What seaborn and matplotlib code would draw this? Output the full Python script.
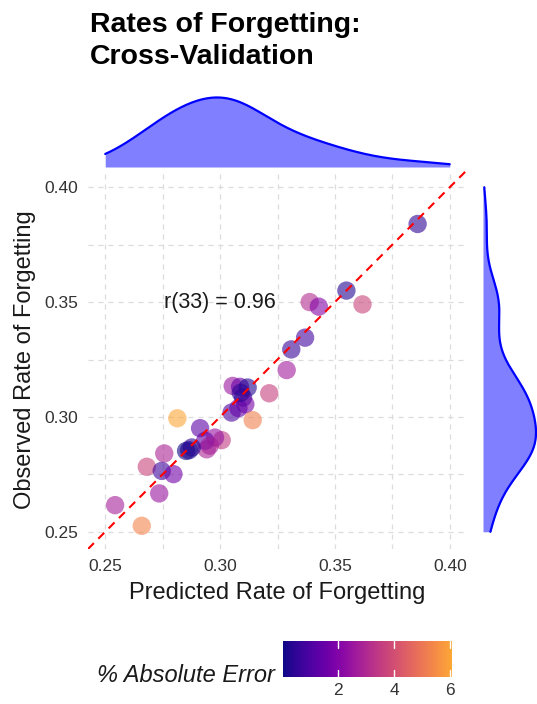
import numpy as np
import matplotlib
matplotlib.use("Agg")
import matplotlib.pyplot as plt
from matplotlib.colors import ListedColormap, Normalize
import seaborn as sns

# Predicted vs observed rate of forgetting, with % absolute error
predicted = [0.386, 0.355, 0.362, 0.339, 0.343, 0.337, 0.331, 0.329, 0.3214, 0.3055,
             0.3087, 0.312, 0.310, 0.311, 0.305, 0.308, 0.3142, 0.2814, 0.2913, 0.3007,
             0.2978, 0.2942, 0.2935, 0.2852, 0.2877, 0.2757, 0.2681, 0.2746, 0.2797, 0.2735,
             0.2543, 0.2659, 0.309, 0.2955, 0.2865]
observed = [0.384, 0.355, 0.349, 0.350, 0.348, 0.3345, 0.3294, 0.3204, 0.3103, 0.3135,
            0.3131, 0.3128, 0.3084, 0.3055, 0.3019, 0.3038, 0.2986, 0.2994, 0.2951, 0.2899,
            0.291, 0.2859, 0.2896, 0.2852, 0.2867, 0.2841, 0.2783, 0.2765, 0.2751, 0.2667,
            0.2616, 0.2526, 0.3105, 0.2875, 0.2855]
abs_error = [0.5, 0.3, 3.7, 3.1, 2.0, 0.8, 0.6, 2.7, 3.6, 2.5,
             1.5, 0.3, 0.6, 1.8, 1.0, 1.4, 5.2, 6.07, 1.3, 3.5,
             2.4, 2.9, 1.4, 0.04, 0.4, 2.9, 3.7, 0.7, 1.7, 2.5,
             2.8, 5.3, 0.5, 2.8, 0.3]
axis_ticks = [0.25, 0.30, 0.35, 0.40]
minor_ticks = [0.275, 0.325, 0.375]
cbar_ticks = [2, 4, 6]

sns.set_style("white")
plt.rcParams['font.family'] = ['Liberation Sans', 'DejaVu Sans']

W, H = 537, 704
fig = plt.figure(figsize=(W / 100, H / 100), dpi=100)

def px_axes(x0, y0, x1, y1):
    # axes from pixel box (top-left origin)
    return fig.add_axes([x0 / W, 1 - y1 / H, (x1 - x0) / W, (y1 - y0) / H])

ax = px_axes(88, 170, 467, 549)
ax_top = px_axes(88, 94, 467, 167)
ax_right = px_axes(483, 170, 537, 549)

lo, hi = 0.25, 0.40
pad = (hi - lo) * 0.05

# plasma, cut short at the orange end
cmap = ListedColormap(plt.cm.plasma(np.linspace(0, 0.8, 256)))
norm = Normalize(min(abs_error), max(abs_error))

# main scatter
sns.scatterplot(x=predicted, y=observed, hue=abs_error, palette=cmap, hue_norm=norm,
                s=175, alpha=0.6, linewidth=0, legend=False, ax=ax, zorder=3)
ax.axline((lo, lo), slope=1, color='red', linestyle=(0, (4, 3)), linewidth=1.5, zorder=4)
ax.text(0.30, 0.35, "r(33) = 0.96", ha='center', va='center', fontsize=15.5, color='#1a1a1a')

ax.set_xlim(lo - pad, hi + pad)
ax.set_ylim(lo - pad, hi + pad)
ax.set_xticks(axis_ticks)
ax.set_yticks(axis_ticks)
ax.set_xticks(minor_ticks, minor=True)
ax.set_yticks(minor_ticks, minor=True)
ax.set_xticklabels([f"{t:.2f}" for t in axis_ticks])
ax.set_yticklabels([f"{t:.2f}" for t in axis_ticks])
ax.tick_params(which='both', length=0, labelsize=12.5, labelcolor='#333333', pad=7)
ax.grid(which='both', color='#DCDCDC', linestyle=(0, (4, 4)), linewidth=0.9)
ax.set_axisbelow(True)
for sp in ax.spines.values():
    sp.set_visible(False)
ax.set_xlabel("Predicted Rate of Forgetting", fontsize=17, color='#1a1a1a', labelpad=6)
ax.set_ylabel("Observed Rate of Forgetting", fontsize=17, color='#1a1a1a', labelpad=6)

# marginal densities (bandwidth differs per variable, like R's nrd0)
top_kw = dict(clip=(lo, hi), cut=10, bw_adjust=1.05)
right_kw = dict(clip=(lo, hi), cut=10, bw_adjust=0.8)
sns.kdeplot(x=predicted, ax=ax_top, fill=True, color='blue', alpha=0.5, linewidth=0, **top_kw)
sns.kdeplot(x=predicted, ax=ax_top, color='blue', linewidth=1.6, **top_kw)
ax_top.set_xlim(lo - pad, hi + pad)
ax_top.set_ylim(0, ax_top.get_ylim()[1])
ax_top.axis('off')

sns.kdeplot(y=observed, ax=ax_right, fill=True, color='blue', alpha=0.5, linewidth=0, **right_kw)
sns.kdeplot(y=observed, ax=ax_right, color='blue', linewidth=1.6, **right_kw)
ax_right.set_ylim(lo - pad, hi + pad)
ax_right.set_xlim(0, ax_right.get_xlim()[1] * 0.97)
ax_right.axis('off')

# title
fig.text(90 / W, 1 - 12 / H, "Rates of Forgetting:\nCross-Validation", ha='left', va='top',
         fontsize=20.5, fontweight='bold', color='black', linespacing=1.3)

# colour legend
cax = px_axes(283, 641, 452, 677)
sm = plt.cm.ScalarMappable(norm=norm, cmap=cmap)
cb = fig.colorbar(sm, cax=cax, orientation='horizontal')
cb.outline.set_visible(False)
cb.set_ticks(cbar_ticks)
cax.tick_params(length=0, labelsize=12.5, labelcolor='#333333', pad=4)
for t in cbar_ticks:
    cax.axvline(t, ymin=0, ymax=0.2, color='white', linewidth=1)
    cax.axvline(t, ymin=0.8, ymax=1, color='white', linewidth=1)
fig.text(275 / W, 1 - 676 / H, "% Absolute Error", ha='right', va='center',
         fontsize=17, fontstyle='italic', color='#1a1a1a')

fig.savefig("out.png", dpi=100, facecolor='white')
